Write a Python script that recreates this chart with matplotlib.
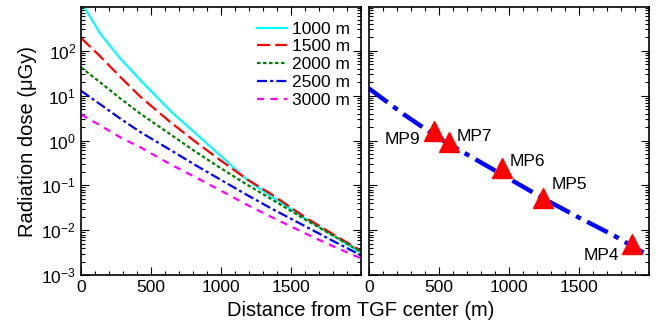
import matplotlib
matplotlib.use('Agg')
import matplotlib.pyplot as plt
from matplotlib.ticker import MultipleLocator, FixedLocator, LogLocator
import numpy as np

plt.rcParams['font.family'] = ['Liberation Sans', 'DejaVu Sans']
plt.rcParams['mathtext.fontset'] = 'custom'
plt.rcParams['mathtext.rm'] = 'Liberation Sans'
plt.rcParams['mathtext.it'] = 'Liberation Sans:italic'
plt.rcParams['mathtext.bf'] = 'Liberation Sans:bold'

# --- left panel: dose vs distance for several source altitudes (log10 of dose, uGy) ---
dist = [0, 136, 280, 423, 638, 818, 1000, 1189, 1356, 1600, 1800, 2000]
dose_1000 = [3.10, 2.39, 1.83, 1.35, 0.66, 0.16, -0.35, -0.88, -1.24, -1.74, -2.12, -2.51]
dose_1500 = [2.29, 1.88, 1.42, 0.98, 0.41, -0.03, -0.45, -0.87, -1.19, -1.71, -2.09, -2.46]
dose_2000 = [1.63, 1.30, 0.94, 0.60, 0.14, -0.25, -0.62, -0.99, -1.30, -1.76, -2.12, -2.48]
dose_2500 = [1.11, 0.81, 0.49, 0.19, -0.21, -0.55, -0.88, -1.22, -1.51, -1.91, -2.24, -2.56]
dose_3000 = [0.58, 0.34, 0.07, -0.15, -0.53, -0.82, -1.12, -1.44, -1.70, -2.07, -2.36, -2.63]
altitudes = ['1000 m', '1500 m', '2000 m', '2500 m', '3000 m']

# --- right panel: fitted curve and monitoring posts ---
fit_dist = [0, 250, 500, 750, 1000, 1250, 1500, 1750, 1960]
fit_dose = [1.16, 0.58, 0.05, -0.40, -0.85, -1.30, -1.72, -2.12, -2.50]
mp_names = ['MP9', 'MP7', 'MP6', 'MP5', 'MP4']
mp_dist = [468, 572, 949, 1245, 1882]
mp_dose = [1.6, 0.95, 0.24, 0.051, 0.005]
xtick_vals = [0, 500, 1000, 1500]

fig = plt.figure(figsize=(6.59, 3.29), dpi=100)
ax1 = fig.add_axes([0.1229, 0.1641, 0.4249, 0.8146])
ax2 = fig.add_axes([0.5599, 0.1641, 0.4249, 0.8146])

styles = [
    dict(color='cyan', linestyle='-'),
    dict(color='red', linestyle=(0, (6, 2.2))),
    dict(color='green', linestyle=(0, (1.6, 1.1))),
    dict(color='blue', linestyle=(0, (4.5, 1.4, 1.4, 1.4))),
    dict(color='magenta', linestyle=(0, (3.2, 2.8))),
]
series = [dose_1000, dose_1500, dose_2000, dose_2500, dose_3000]
for vals, lab, st in zip(series, altitudes, styles):
    ax1.semilogy(dist, 10 ** np.array(vals), lw=1.6, label=lab, **st)

ax1.legend(loc='upper right', bbox_to_anchor=(1.0, 0.985), frameon=False, fontsize=12.5,
           handlelength=1.75, handletextpad=0.3, labelspacing=0.15,
           borderaxespad=0.4, borderpad=0.2)

ax2.semilogy(fit_dist, 10 ** np.array(fit_dose), color='blue', lw=3.2,
             linestyle=(0, (5.2, 1.6, 1.2, 1.6)))
ax2.plot(mp_dist, mp_dose, linestyle='none', marker='^', ms=15,
         color='red', markeredgecolor='red', zorder=5)

label_off = {'MP9': (-14, -8, 'right'), 'MP7': (8, 5, 'left'), 'MP6': (8, 7, 'left'),
             'MP5': (8, 14, 'left'), 'MP4': (-13, -12, 'right')}
for name, xv, yv in zip(mp_names, mp_dist, mp_dose):
    dx, dy, ha = label_off[name]
    ax2.annotate(name, (xv, yv), xytext=(dx, dy), textcoords='offset pixels',
                 ha=ha, va='center', fontsize=12.5)

for ax in (ax1, ax2):
    ax.set_xlim(0, 2000)
    ax.set_ylim(1e-3, 950)
    ax.xaxis.set_major_locator(FixedLocator(xtick_vals))
    ax.xaxis.set_minor_locator(MultipleLocator(100))
    ax.yaxis.set_major_locator(LogLocator(base=10, numticks=20))
    ax.yaxis.set_minor_locator(LogLocator(base=10, subs=np.arange(2, 10), numticks=20))
    ax.tick_params(which='both', direction='in', top=True, right=True, width=0.8,
                   labelsize=12.5)
    ax.tick_params(which='major', length=6)
    ax.tick_params(which='minor', length=3.2)
    for sp in ax.spines.values():
        sp.set_linewidth(1.2)

ax2.tick_params(axis='y', which='both', labelleft=False)
ax1.set_ylabel('Radiation dose (μGy)', fontsize=14.5, labelpad=3)
fig.text(0.548, 0.055, 'Distance from TGF center (m)', ha='center', va='center', fontsize=14.5)

plt.savefig('out.png', dpi=100)
